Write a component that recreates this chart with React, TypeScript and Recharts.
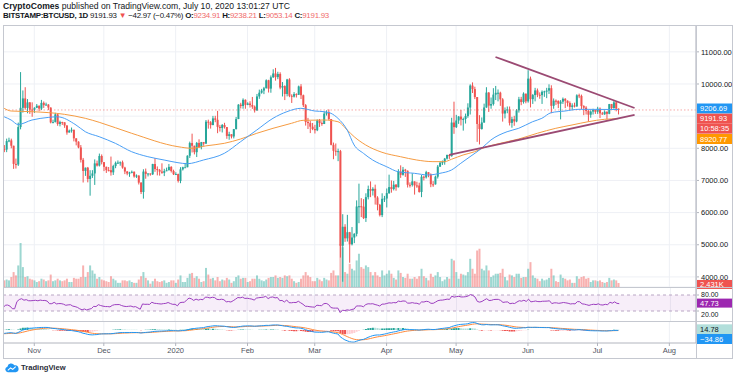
import React from 'react'
import { ComposedChart, Bar, Line, XAxis, YAxis, CartesianGrid, ReferenceLine, ReferenceArea, Cell } from 'recharts'

const UP = '#26a69a'
const DOWN = '#ef5350'
const TRI = '#9b4a73'
const FONT = '"Liberation Sans", Arial, sans-serif'
const W = 730
const AXIS_W = 37

// BITSTAMP:BTCUSD 1D, 19 Oct 2019 .. 10 Jul 2020 (axis runs on to 12 Aug)
const firstDay = Date.UTC(2019, 9, 19)
const lastDay = Date.UTC(2020, 7, 12)

// closes 4 Sep .. 18 Oct 2019, only used to warm up RSI / MACD
const priorCloses = [
  10600, 10580, 10320, 10490, 10410, 10340, 10120, 10160, 10400, 10360, 10360, 10310, 10260, 10200, 10160,
  10275, 10170, 9987, 10029, 9702, 8530, 8434, 8063, 8220, 8245, 8104, 8293,
  8343, 8393, 8260, 8205, 8151, 7988, 8245, 8228, 8595, 8586, 8321, 8336, 8321, 8374, 8205, 8047, 8103, 7973,
]

const closes = [
  7960, 8225, 8245, 8080, 7515, 7495, 8660, 9259, 9551, 9256, 9427, 9205, 9199,
  9261, 9324, 9235, 9413, 9342, 9360, 9267, 8804, 8813, 9055, 8757, 8815, 8808, 8708, 8491, 8550, 8577, 8310, 8206, 8027, 7643, 7296, 7397, 7047, 7146, 7218, 7531, 7463, 7761, 7569,
  7424, 7321, 7320, 7252, 7448, 7547, 7556, 7564, 7400, 7278, 7217, 7243, 7269, 7124, 7152, 6932, 6640, 7276, 7202, 7218, 7191, 7511, 7355, 7322, 7275, 7238, 7290, 7317, 7422, 7293, 7193,
  7200, 6985, 7345, 7410, 7411, 7769, 8163, 8079, 7879, 8166, 8037, 8192, 8145, 8828, 8808, 8723, 8930, 8886, 8666, 8630, 8725, 8660, 8385, 8437, 8367, 8597, 8910, 9358, 9316, 9508, 9351,
  9393, 9345, 9294, 9180, 9613, 9730, 9796, 9866, 10116, 9856, 10208, 10327, 10214, 10312, 9889, 9935, 9690, 10141, 9633, 9608, 9686, 9663, 9924, 9650, 9341, 8820, 8784, 8672, 8599,
  8562, 8869, 8787, 8755, 9078, 9122, 8909, 8108, 7923, 7909, 7911, 4970, 5560, 5200, 5390, 5014, 5225, 5340, 6190, 6198, 6185, 5830, 6480, 6734, 6681, 6740, 6469, 6242, 5922, 6429, 6438,
  6606, 6793, 6733, 6868, 6791, 7271, 7176, 7334, 7302, 6865, 6859, 6971, 6845, 6842, 6642, 7116, 7096, 7257, 7189, 6881, 6880, 7117, 7429, 7550, 7569, 7679, 7795, 7756, 8801, 8658,
  8864, 8988, 8897, 8912, 9003, 9268, 9951, 9842, 9593, 8756, 8601, 8804, 9269, 9733, 9328, 9377, 9670, 9726, 9729, 9522, 9081, 9182, 9209, 8790, 8906, 8835, 9181, 9525, 9439, 9700, 9461,
  10167, 9529, 9656, 9800, 9665, 9653, 9758, 9771, 9795, 9870, 9321, 9480, 9475, 9386, 9450, 9538, 9480, 9411, 9288, 9332, 9303, 9648, 9629, 9313, 9264, 9162, 9045, 9143, 9190, 9138,
  9232, 9086, 9058, 9135, 9073, 9375, 9252, 9428, 9234.91, 9191.93,
]

const highs = [
  8100, 8300, 8330, 8300, 8080, 7680, 8800, 10370, 9800, 9900, 9530, 9440, 9430,
  9275, 9377, 9331, 9505, 9457, 9420, 9374, 9273, 8891, 9104, 9073, 8858, 8826, 8809, 8721, 8581, 8646, 8578, 8311, 8218, 8101, 7700, 7400, 7420, 7319, 7320, 7655, 7617, 7836, 7810,
  7571, 7430, 7418, 7743, 7488, 7588, 7622, 7591, 7618, 7425, 7295, 7269, 7308, 7282, 7188, 7161, 6946, 7348, 7370, 7218, 7218, 7518, 7695, 7436, 7357, 7533, 7363, 7399, 7513, 7444, 7335,
  7255, 7212, 7413, 7427, 7544, 7781, 8208, 8455, 8082, 8197, 8280, 8198, 8197, 8880, 8890, 8846, 9008, 9010, 9164, 8728, 8755, 8793, 8660, 8514, 8436, 8602, 8975, 9372, 9415, 9553, 9521,
  9431, 9464, 9597, 9331, 9690, 9824, 9848, 9910, 10144, 10131, 10266, 10457, 10500, 10380, 10364, 10060, 9960, 10160, 10180, 9680, 9749, 9710, 9950, 9996, 9670, 9374, 8947, 8848, 8788,
  8730, 8898, 8912, 8840, 9140, 9180, 9210, 8908, 8178, 8150, 7988, 7950, 5950, 5640, 5930, 5400, 5550, 5360, 6380, 6900, 6450, 6420, 6600, 6840, 6970, 6790, 6870, 6510, 6270, 6600, 6520,
  6750, 7180, 7000, 6985, 6890, 7350, 7470, 7420, 7360, 7310, 6940, 7220, 6970, 6960, 6930, 7170, 7150, 7300, 7250, 7220, 6980, 7150, 7480, 7590, 7620, 7700, 7800, 7790, 8950, 9450,
  9040, 9000, 9190, 8955, 9080, 9400, 9990, 10050, 9915, 9580, 9030, 8960, 9390, 9900, 9750, 9580, 9870, 9940, 9830, 9760, 9560, 9270, 9300, 9300, 8980, 9010, 9220, 9600, 9600, 9740, 9700,
  10430, 10230, 9690, 9880, 9860, 9740, 9800, 9790, 9880, 9990, 9960, 9550, 9520, 9490, 9500, 9580, 9560, 9490, 9460, 9400, 9420, 9680, 9700, 9670, 9340, 9310, 9190, 9180, 9230, 9200,
  9290, 9270, 9130, 9180, 9150, 9380, 9380, 9470, 9440, 9238.21,
]

const lows = [
  7880, 7880, 8190, 8000, 7360, 7370, 7450, 8590, 9110, 9200, 9090, 9070, 8980,
  9100, 9249, 9154, 9191, 9256, 9331, 9193, 8775, 8784, 8807, 8700, 8682, 8727, 8637, 8423, 8489, 8488, 8215, 8091, 8000, 7558, 6936, 7142, 6941, 6526, 7078, 6861, 7433, 7434, 7500,
  7291, 7233, 7283, 7150, 7171, 7381, 7511, 7458, 7365, 7197, 7161, 7112, 7221, 7087, 7078, 6874, 6577, 6435, 7053, 7124, 7150, 7170, 7268, 7158, 7150, 7207, 7135, 7288, 7314, 7247, 7169,
  7175, 6935, 6914, 7309, 7400, 7410, 7700, 7870, 7810, 7728, 8009, 7968, 8079, 8141, 8611, 8612, 8717, 8811, 8470, 8520, 8492, 8613, 8296, 8266, 8307, 8307, 8585, 8908, 9239, 9231, 9230,
  9341, 9267, 9226, 9112, 9163, 9539, 9700, 9685, 9862, 9735, 9728, 10190, 10104, 10150, 9837, 9612, 9500, 9614, 9590, 9410, 9580, 9580, 9663, 9532, 9284, 8706, 8600, 8473, 8564,
  8460, 8534, 8664, 8700, 8761, 9018, 8880, 8091, 7660, 7767, 7600, 4600, 3850, 5090, 5100, 4440, 4980, 5050, 5260, 5670, 5860, 5800, 5710, 6410, 6480, 6530, 6250, 6070, 5880, 5860, 6330,
  6160, 6580, 6620, 6690, 6680, 6780, 7080, 7150, 7110, 6780, 6780, 6810, 6560, 6770, 6620, 6480, 7000, 7060, 7100, 6790, 6800, 6870, 7060, 7420, 7480, 7490, 7650, 7670, 7740, 8450,
  8630, 8760, 8710, 8550, 8770, 8950, 9050, 9720, 9530, 8200, 8120, 8580, 8790, 9260, 9130, 9230, 9330, 9500, 9460, 9320, 8830, 8930, 9090, 8710, 8640, 8700, 8810, 9110, 9340, 9390, 9400,
  9420, 9270, 9380, 9460, 9590, 9540, 9380, 9600, 9560, 9690, 9090, 9230, 9350, 9250, 8900, 9380, 9250, 9300, 9190, 9200, 9270, 9290, 9560, 9220, 9030, 9050, 8830, 8950, 9050, 9070,
  9070, 8940, 9040, 9040, 8900, 9060, 9200, 9230, 9150, 9053.14,
]

// volume, thousands of BTC
const volumes = [
  4, 4.5, 4, 6, 9, 7, 13, 26.5, 12, 6, 6.5, 5, 4.5,
  4, 3, 3.5, 5, 4.5, 3.5, 4, 7.5, 3.5, 4, 5, 4, 3.5, 4, 5, 3, 3, 5.5, 5, 5, 6, 13, 6, 9, 13, 10, 8, 5, 6, 4.5,
  4, 3.5, 3, 6.5, 5, 4, 2.5, 2.5, 4, 4, 3.5, 4, 3, 2.5, 2.5, 4.5, 6.5, 9, 5.5, 4, 2, 3.5, 5, 3.5, 3, 3.5, 4, 2.5, 3, 4, 4,
  2.5, 4.5, 7, 3, 3, 5.5, 8, 8.5, 5.5, 6.5, 5, 3, 3.5, 11.5, 7.5, 5, 5.5, 4, 6, 3.5, 4.5, 4, 5.5, 4.5, 2.5, 3.5, 6, 7, 5, 5.5, 5.5,
  3, 3.5, 5, 5, 7, 5, 4, 3.5, 4.5, 5.5, 6, 6, 7, 5.5, 6, 5.5, 7, 6.5, 7, 5, 3.5, 2.5, 3, 5, 7, 9, 7, 6, 3.5,
  3.5, 5.5, 4.5, 3.5, 5.5, 4.5, 4, 8.5, 10, 7, 7, 26, 24, 9, 8, 14, 11, 10, 16, 20, 12, 11, 13, 12, 9, 7, 9, 7, 6, 10, 7,
  8, 10, 8, 5.5, 4.5, 10, 8.5, 6, 5.5, 8, 5, 5, 6, 5, 6.5, 11, 6.5, 5.5, 4, 8, 6, 7, 9, 6, 3.5, 4.5, 6, 5, 17, 16,
  9, 5, 8, 7.5, 7, 9, 17, 11, 8, 22, 23, 11, 10, 13, 10, 6, 7, 8, 8, 8.5, 11, 6, 4, 7.5, 7, 6, 8, 8, 5.5, 6, 6,
  11, 15, 7, 5.5, 5, 3.5, 5, 4, 4.5, 5.5, 11, 7, 3.5, 3, 7.5, 5.5, 5, 4, 4.5, 2.5, 2.5, 6.5, 5, 6, 6.5, 5, 5.5, 3, 4, 4,
  3.5, 4, 3, 2.5, 3, 5.5, 4, 4.5, 4, 2.431,
]

// moving averages
const blueMA: [string, number][] = [
  ['2019-10-19', 8980], ['2019-10-22', 8880], ['2019-10-25', 8740], ['2019-10-31', 8880], ['2019-11-07', 8960],
  ['2019-11-11', 8980], ['2019-11-19', 8725], ['2019-11-23', 8516], ['2019-11-29', 8361], ['2019-12-06', 8154],
  ['2019-12-13', 7894], ['2019-12-20', 7739], ['2019-12-27', 7636], ['2020-01-02', 7552], ['2020-01-06', 7521],
  ['2020-01-13', 7636], ['2020-01-22', 7844], ['2020-01-29', 8205], ['2020-02-05', 8569], ['2020-02-12', 8933],
  ['2020-02-18', 9139], ['2020-02-24', 9244], ['2020-03-01', 9160], ['2020-03-05', 9139], ['2020-03-08', 9088],
  ['2020-03-11', 8933], ['2020-03-15', 8569], ['2020-03-18', 8103], ['2020-03-22', 7845], ['2020-03-26', 7636],
  ['2020-04-01', 7428], ['2020-04-06', 7272], ['2020-04-13', 7222], ['2020-04-19', 7170], ['2020-04-24', 7222],
  ['2020-04-29', 7325], ['2020-05-03', 7533], ['2020-05-07', 7739], ['2020-05-12', 8000], ['2020-05-16', 8258],
  ['2020-05-23', 8516], ['2020-05-28', 8622], ['2020-06-03', 8827], ['2020-06-07', 8933], ['2020-06-11', 9108],
  ['2020-06-17', 9160], ['2020-06-23', 9213], ['2020-07-10', 9206.69],
]
const orangeMA: [string, number][] = [
  ['2019-10-19', 9244], ['2019-10-22', 9160], ['2019-10-31', 9139], ['2019-11-14', 9057], ['2019-11-23', 8933],
  ['2019-11-29', 8809], ['2019-12-13', 8467], ['2020-01-02', 8050], ['2020-01-08', 8000], ['2020-01-14', 8075],
  ['2020-01-22', 8155], ['2020-01-29', 8289], ['2020-02-05', 8467], ['2020-02-12', 8622], ['2020-02-20', 8778],
  ['2020-02-25', 8870], ['2020-03-05', 8880], ['2020-03-11', 8827], ['2020-03-15', 8569], ['2020-03-18', 8361],
  ['2020-03-23', 8103], ['2020-03-30', 7876], ['2020-04-07', 7739], ['2020-04-14', 7636], ['2020-04-21', 7585],
  ['2020-04-26', 7585], ['2020-04-29', 7658], ['2020-05-04', 7792], ['2020-05-09', 7894], ['2020-05-13', 8019],
  ['2020-05-20', 8155], ['2020-05-28', 8289], ['2020-06-05', 8467], ['2020-06-13', 8622], ['2020-06-20', 8725],
  ['2020-06-27', 8827], ['2020-07-04', 8902], ['2020-07-10', 8920.77],
]

// triangle drawn on the chart
const upperTrend = [{ x: '2020-05-18', y: 10840 }, { x: '2020-07-17', y: 9253 }]
const lowerTrend = [{ x: '2020-04-28', y: 7792 }, { x: '2020-07-17', y: 9036 }]

const priceTicks = [4000, 5000, 6000, 7000, 8000, 10000, 11000]
const gridTicks = [4000, 5000, 6000, 7000, 8000, 9000, 10000, 11000]
const rsiTicks = [20, 80]
const monthTicks = ['2019-11-01', '2019-12-01', '2020-01-01', '2020-02-01', '2020-03-01', '2020-04-01', '2020-05-01', '2020-06-01', '2020-07-01', '2020-08-01']
const monthNames = ['Nov', 'Dec', '2020', 'Feb', 'Mar', 'Apr', 'May', 'Jun', 'Jul', 'Aug']

const lastPrice = 9191.93
const blueLast = 9206.69
const orangeLast = 8920.77
const countdown = '10:58:35'
const lastVolume = 2.431
const rsiLast = 47.73
const histLast = 14.78
const macdLast = -34.86

const priceDomain = [3686, 11835]

// ---- build rows ----
const dates: string[] = []
for (let t = firstDay; t <= lastDay; t += 86400000) dates.push(new Date(t).toISOString().slice(0, 10))

const allCloses = [...priorCloses, ...closes]
const rsiAll: (number | undefined)[] = [undefined]
let avgGain = 0
let avgLoss = 0
for (let i = 1; i < allCloses.length; i++) {
  const ch = allCloses[i] - allCloses[i - 1]
  const g = Math.max(ch, 0)
  const l = Math.max(-ch, 0)
  if (i <= 14) {
    avgGain += g / 14
    avgLoss += l / 14
  } else {
    avgGain = (avgGain * 13 + g) / 14
    avgLoss = (avgLoss * 13 + l) / 14
  }
  rsiAll.push(i >= 14 ? 100 - 100 / (1 + avgGain / avgLoss) : undefined)
}
const ema = (src: number[], n: number) => {
  const k = 2 / (n + 1)
  const out: number[] = []
  src.forEach((v, i) => out.push(i === 0 ? v : v * k + out[i - 1] * (1 - k)))
  return out
}
const e12 = ema(allCloses, 12)
const e26 = ema(allCloses, 26)
const macdAll = allCloses.map((_, i) => e12[i] - e26[i])
const sigAll = ema(macdAll, 9)
const histAll = macdAll.map((m, i) => m - sigAll[i])

const off = priorCloses.length
const blueMap = new Map(blueMA)
const orangeMap = new Map(orangeMA)
const rows = dates.map((date, i) => {
  const row: any = { date, blue: blueMap.get(date), orange: orangeMap.get(date) }
  if (i < closes.length) {
    const open = i === 0 ? priorCloses[off - 1] : closes[i - 1]
    const close = closes[i]
    const high = Math.max(highs[i], open, close)
    const low = Math.min(lows[i], open, close)
    Object.assign(row, {
      open, close, high, low, range: [low, high], volume: volumes[i],
      rsi: rsiAll[off + i], macd: macdAll[off + i], signal: sigAll[off + i],
      hist: histAll[off + i], histPrev: histAll[off + i - 1],
    })
  }
  return row
})

const histColor = (r: any) => {
  if (r.hist >= 0) return r.hist > r.histPrev ? '#26a69a' : '#b2dfdb'
  return r.hist > r.histPrev ? '#ffcdd2' : '#ef5350'
}

function Candle(props: any) {
  const { x, y, width, height, payload } = props
  if (!payload || payload.close == null) return null
  const { open, close, high, low } = payload
  const top0 = Math.min(y, y + height)
  const h = Math.abs(height)
  const span = high - low || 1
  const toY = (v: number) => top0 + ((high - v) / span) * h
  const color = close >= open ? UP : DOWN
  const cx = x + width / 2
  const bTop = toY(Math.max(open, close))
  const bBot = toY(Math.min(open, close))
  return (
    <g>
      <line x1={cx} x2={cx} y1={top0} y2={top0 + h} stroke={color} strokeWidth={1} />
      <rect x={x} y={bTop} width={width} height={Math.max(1, bBot - bTop)} fill={color} />
    </g>
  )
}

const tag = (text: string, bg: string, fg: string, dy: number, h = 10) => (props: any) => {
  const vb = props.viewBox
  const x = vb.x + vb.width + 1
  const y = vb.y + dy
  return (
    <g>
      <rect x={x} y={y - h / 2} width={35} height={h} fill={bg} />
      <text x={x + 3} y={y + 2.7} fontSize={7.5} fill={fg} fontFamily={FONT}>{text}</text>
    </g>
  )
}

const RsiTick = (props: any) => {
  const { x, y, payload } = props
  const shift = payload.value === 20 ? 3 : -1
  return (
    <text x={x} y={y + shift + 2.7} fontSize={7} fill="#131722" fontFamily={FONT}>{payload.value.toFixed(2)}</text>
  )
}

const axisTick = { fontSize: 7.5, fill: '#131722', fontFamily: FONT }
const zero = { top: 0, right: 0, bottom: 0, left: 0 }

export default function App() {
  return (
    <div style={{ position: 'fixed', left: 0, top: 0, width: 736, height: 379, background: '#fff', fontFamily: FONT, color: '#131722', overflow: 'hidden' }}>
      <div style={{ position: 'absolute', left: 3, top: 1, fontSize: 8.6, lineHeight: '10px', whiteSpace: 'nowrap' }}>
        <b>CryptoComes</b> published on TradingView.com, July 10, 2020 13:01:27 UTC
      </div>
      <div style={{ position: 'absolute', left: 3, top: 11, fontSize: 7.9, letterSpacing: -0.25, lineHeight: '10px', whiteSpace: 'nowrap' }}>
        <b>BITSTAMP:BTCUSD, 1D</b> 9191.93 <span style={{ color: DOWN }}>▼</span> −42.97 (−0.47%){' '}
        <b>O:</b><span style={{ color: '#f06b6b' }}>9234.91</span> <b>H:</b><span style={{ color: '#f06b6b' }}>9238.21</span>{' '}
        <b>L:</b><span style={{ color: '#f06b6b' }}>9053.14</span> <b>C:</b><span style={{ color: '#f06b6b' }}>9191.93</span>
      </div>

      {/* volume + grid layer */}
      <div style={{ position: 'absolute', left: 3, top: 25 }}>
        <ComposedChart width={W} height={268} data={rows} margin={{ top: 0, right: AXIS_W, bottom: 6, left: 0 }} barCategoryGap="15%">
          <XAxis dataKey="date" hide ticks={monthTicks} interval={0} />
          <YAxis yAxisId="price" hide domain={priceDomain} ticks={gridTicks} allowDataOverflow />
          <YAxis yAxisId="vol" hide domain={[0, 158]} allowDataOverflow />
          <CartesianGrid yAxisId="price" stroke="#eef0f5" />
          <Bar yAxisId="vol" dataKey="volume" isAnimationActive={false}>
            {rows.map((r, i) => <Cell key={i} fill={r.close >= r.open ? UP : DOWN} fillOpacity={0.45} />)}
          </Bar>
          <ReferenceLine yAxisId="vol" y={lastVolume} stroke="none" label={tag('2.431K', DOWN, '#fff', 1.5, 9)} />
        </ComposedChart>
      </div>

      {/* price layer */}
      <div style={{ position: 'absolute', left: 3, top: 25 }}>
        <ComposedChart width={W} height={262} data={rows} margin={zero} barCategoryGap="15%">
          <XAxis dataKey="date" hide />
          <YAxis yAxisId="price" orientation="right" width={AXIS_W} domain={priceDomain} ticks={priceTicks} interval={0}
            allowDataOverflow tickFormatter={(v: number) => v.toFixed(2)} tick={axisTick} tickSize={3}
            tickLine={{ stroke: '#b2b5be' }} axisLine={{ stroke: '#b2b5be' }} />
          <ReferenceLine yAxisId="price" y={lastPrice} stroke={DOWN} strokeOpacity={0.7} strokeDasharray="1.5 2" strokeWidth={0.7} />
          <Line yAxisId="price" dataKey="orange" type="monotone" connectNulls dot={false} stroke="#f59b42" strokeWidth={1} isAnimationActive={false} />
          <Line yAxisId="price" dataKey="blue" type="monotone" connectNulls dot={false} stroke="#4a9ff5" strokeWidth={1} isAnimationActive={false} />
          <Bar yAxisId="price" dataKey="range" shape={(p: any) => <Candle {...p} />} isAnimationActive={false} />
          <ReferenceLine yAxisId="price" segment={upperTrend} stroke={TRI} strokeWidth={1.8} />
          <ReferenceLine yAxisId="price" segment={lowerTrend} stroke={TRI} strokeWidth={1.8} />
          <ReferenceLine yAxisId="price" y={blueLast} stroke="none" label={tag('9206.69', '#2196f3', '#fff', -1)} />
          <ReferenceLine yAxisId="price" y={lastPrice} stroke="none" label={tag('9191.93', DOWN, '#fff', 8.7)} />
          <ReferenceLine yAxisId="price" y={lastPrice} stroke="none" label={tag(countdown, DOWN, '#fff', 18.7)} />
          <ReferenceLine yAxisId="price" y={orangeLast} stroke="none" label={tag('8920.77', '#ff9800', '#fff', 20.3)} />
        </ComposedChart>
      </div>

      {/* RSI */}
      <div style={{ position: 'absolute', left: 3, top: 287 }}>
        <ComposedChart width={W} height={34} data={rows} margin={zero}>
          <XAxis dataKey="date" hide ticks={monthTicks} interval={0} />
          <YAxis orientation="right" width={AXIS_W} domain={[-17.5, 110]} ticks={rsiTicks} interval={0} allowDataOverflow
            tick={<RsiTick />} tickSize={3}
            tickLine={{ stroke: '#b2b5be' }} axisLine={{ stroke: '#b2b5be' }} />
          <CartesianGrid horizontal={false} stroke="#eef0f5" />
          <ReferenceArea y1={20} y2={80} fill="#9c27b0" fillOpacity={0.08} stroke="none" />
          <ReferenceLine y={80} stroke="#b9a6c4" strokeDasharray="3 3" />
          <ReferenceLine y={20} stroke="#b9a6c4" strokeDasharray="3 3" />
          <Line dataKey="rsi" type="linear" dot={false} stroke="#9c3fbf" strokeWidth={1} isAnimationActive={false} />
          <ReferenceLine y={rsiLast} stroke="none" label={tag('47.73', '#9c27b0', '#fff', -0.5, 9)} />
        </ComposedChart>
      </div>

      {/* MACD + time axis */}
      <div style={{ position: 'absolute', left: 3, top: 321 }}>
        <ComposedChart width={W} height={37} data={rows} margin={zero} barCategoryGap="15%">
          <XAxis dataKey="date" ticks={monthTicks} interval={0} height={15} tickSize={3}
            tickFormatter={(d: string) => monthNames[monthTicks.indexOf(d)]}
            tick={{ fontSize: 7.5, fill: '#50535e', fontFamily: FONT }}
            tickLine={{ stroke: '#b2b5be' }} axisLine={{ stroke: '#b2b5be' }} />
          <YAxis orientation="right" width={AXIS_W} domain={[-1170, 810]} allowDataOverflow tick={false} tickLine={false} axisLine={{ stroke: '#b2b5be' }} />
          <CartesianGrid horizontal={false} stroke="#eef0f5" />
          <Bar dataKey="hist" isAnimationActive={false}>
            {rows.map((r, i) => <Cell key={i} fill={r.hist == null ? 'none' : histColor(r)} />)}
          </Bar>
          <Line dataKey="signal" type="linear" dot={false} stroke="#ff8a3d" strokeWidth={1} isAnimationActive={false} />
          <Line dataKey="macd" type="linear" dot={false} stroke="#2196f3" strokeWidth={1} isAnimationActive={false} />
          <ReferenceLine y={histLast} stroke="none" label={tag('14.78', '#b2dfdb', '#131722', -0.5)} />
          <ReferenceLine y={macdLast} stroke="none" label={tag('−34.86', '#2196f3', '#fff', 8.6)} />
        </ComposedChart>
      </div>

      {/* pane frame */}
      <svg width={736} height={379} style={{ position: 'absolute', left: 0, top: 0, pointerEvents: 'none' }}>
        <rect x={3.5} y={25.5} width={729} height={333} fill="none" stroke="#c5c8d0" />
        <line x1={3} x2={733} y1={287.5} y2={287.5} stroke="#c5c8d0" />
        <line x1={3} x2={733} y1={321.5} y2={321.5} stroke="#c5c8d0" />
        <line x1={696.5} x2={696.5} y1={25} y2={358} stroke="#c5c8d0" />
      </svg>

      <div style={{ position: 'absolute', left: 5, top: 362, display: 'flex', alignItems: 'center', gap: 2 }}>
        <svg width={14} height={11} viewBox="0 0 15 11">
          <path d="M3 10.5 A3 3 0 0 1 2.6 4.6 A4 4 0 0 1 10 3.2 A3.6 3.6 0 0 1 11.5 10.5 Z" fill="#2196f3" />
          <path d="M3 8.5 L6 6 L8.3 7.5 L11.5 4.5" stroke="#fff" strokeWidth={1.1} fill="none" />
        </svg>
        <span style={{ fontSize: 7.6, fontWeight: 600, color: '#2a2e39' }}>TradingView</span>
      </div>
    </div>
  )
}
